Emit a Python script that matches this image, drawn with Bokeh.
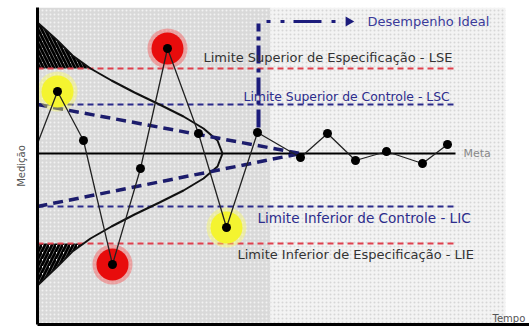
import math
from bokeh.plotting import figure
from bokeh.core.properties import value
from bokeh.embed import file_html
from bokeh.resources import INLINE

# ---- data (tempo / medição units; Meta = 0) ----
tempo = [0.0, 2.0, 4.6, 7.5, 10.3, 13.0, 16.1, 18.9, 22.0, 26.3, 29.0, 31.8, 34.9, 38.5, 41.0]
medicao = [1.0, 6.2, 1.3, -11.1, -1.5, 10.5, 2.0, -7.4, 2.1, -0.4, 2.0, -0.7, 0.2, -1.0, 0.9]
red_idx = [3, 5]
yellow_idx = [1, 7]

meta = 0.0
lse, lsc, lic, lie = 8.5, 4.9, -5.3, -9.0
limit_end = 41.8

# sideways distribution curve
curve_x = [0.0, 2.0, 3.5, 5.3, 7.4, 9.7, 12.2, 14.6, 16.6, 18.0, 18.5,
           18.0, 16.6, 14.6, 12.2, 9.7, 7.4, 5.3, 3.5, 2.0, 0.0]
curve_y = [13.1, 11.3, 9.8, 8.5, 7.3, 6.1, 4.9, 3.7, 2.5, 1.3, 0.0,
           -1.3, -2.5, -3.7, -4.9, -6.1, -7.3, -8.5, -9.8, -11.3, -13.2]
tail_top_x = [0.0, 2.0, 3.5, 5.3, 0.0]
tail_top_y = [13.1, 11.3, 9.8, 8.5, 8.5]
tail_bot_x = [0.0, 4.6, 3.5, 2.0, 0.0]
tail_bot_y = [-9.0, -9.0, -9.8, -11.3, -13.2]

converge_end = 26.3
ideal_x = 22.1
ideal_y = [2.6, 13.0]
legend_x = [22.9, 30.4]
legend_arrow_x = 31.1
legend_y = 13.2

zone_left = [0.0, 23.3]
zone_right = [23.3, 46.8]
zone_fill = ["#d9d9d9", "#f3f3f3"]
zone_dot = ["#f2f2f2", "#d6d6d6"]

x_lo, x_hi = 0.0, 49.2
y_lo, y_hi = -17.1, 14.6

FONT = value("DejaVu Sans")

p = figure(width=529, height=329, x_range=(x_lo, x_hi), y_range=(y_lo, y_hi),
           output_backend="svg", toolbar_location=None,
           min_border_left=37, min_border_right=0, min_border_top=7, min_border_bottom=5)
p.grid.visible = False
p.outline_line_color = None
p.background_fill_color = "white"
for ax in (p.xaxis, p.yaxis):
    ax.ticker = []
    ax.major_tick_out = 0
    ax.major_tick_in = 0
    ax.minor_tick_out = 0
    ax.minor_tick_in = 0
    ax.major_label_standoff = 0
    ax.axis_line_width = 3
    ax.axis_line_color = "black"
p.yaxis.axis_label = "Medição"
p.yaxis.axis_label_text_font = "DejaVu Sans"
p.yaxis.axis_label_text_font_size = "10px"
p.yaxis.axis_label_text_font_style = "normal"
p.yaxis.axis_label_text_color = "#555555"
p.yaxis.axis_label_standoff = 11

# background zones
p.quad(left=zone_left, right=zone_right, top=[y_hi, y_hi], bottom=[y_lo, y_lo],
       fill_color=zone_fill, line_color=None, hatch_pattern="dot",
       hatch_color=zone_dot, hatch_scale=4, hatch_weight=1)

# hatched tails
p.patch(tail_top_x, tail_top_y, fill_color="white", line_color=None,
        hatch_pattern="left_diagonal_line", hatch_color="black", hatch_weight=2.8, hatch_scale=7)
p.patch(tail_bot_x, tail_bot_y, fill_color="white", line_color=None,
        hatch_pattern="right_diagonal_line", hatch_color="black", hatch_weight=2.8, hatch_scale=7)

# meta line
p.line([0, limit_end], [meta, meta], line_color="black", line_width=2)
# spec limits (red) and control limits (blue)
p.segment(x0=[0, 0], y0=[lse, lie], x1=[limit_end, limit_end], y1=[lse, lie],
          line_color="#e0404e", line_width=2, line_dash="6 4")
p.segment(x0=[0, 0], y0=[lsc, lic], x1=[limit_end, limit_end], y1=[lsc, lic],
          line_color="#2c2c8c", line_width=2, line_dash="6 4")

# distribution curve
p.line(curve_x, curve_y, line_color="#111111", line_width=2)

# converging dashed lines
p.segment(x0=[0, 0], y0=[lsc, lic], x1=[converge_end, converge_end], y1=[meta, meta],
          line_color="#1c1c6c", line_width=3.5, line_dash="10 6")

# highlight halos
rx = [tempo[i] for i in red_idx]
ry = [medicao[i] for i in red_idx]
yx = [tempo[i] for i in yellow_idx]
yy = [medicao[i] for i in yellow_idx]
p.scatter(rx, ry, size=40, fill_color="#ff3030", fill_alpha=0.35, line_color=None)
p.scatter(rx, ry, size=32, fill_color="#e80c0c", line_color=None)
p.scatter(yx, yy, size=40, fill_color="#ffff60", fill_alpha=0.4, line_color=None)
p.scatter(yx, yy, size=32, fill_color="#f4f430", line_color=None)

# process line
p.line(tempo, medicao, line_color="#222222", line_width=1.3)
p.scatter(tempo[1:], medicao[1:], size=9, fill_color="black", line_color=None)

# ideal performance vertical line + legend
p.line([ideal_x, ideal_x], ideal_y, line_color="#1c1c7c", line_width=4, line_dash="18 5 4 5")
p.line(legend_x, [legend_y, legend_y], line_color="#1c1c7c", line_width=3,
       line_dash="4 10 4 9 28 10 4 100")
p.scatter([legend_arrow_x], [legend_y], marker="triangle", angle=-math.pi / 2,
          size=10, fill_color="#1c1c7c", line_color=None)

# texts
p.text(x=[33.0], y=[legend_y], text=["Desempenho Ideal"], text_font=FONT,
       text_font_size=value("13px"), text_color="#3a3a9a", text_baseline="middle")
p.text(x=[16.6, 20.0], y=[9.6, -10.1],
       text=["Limite Superior de Especificação - LSE", "Limite Inferior de Especificação - LIE"],
       text_font=FONT, text_font_size=value("13px"), text_color="#333333",
       text_baseline="middle")
p.text(x=[20.6], y=[5.7], text=["Limite Superior de Controle - LSC"],
       text_font=FONT, text_font_size=value("12.4px"), text_color="#2c2c8c",
       text_baseline="middle")
p.text(x=[22.0], y=[-6.4], text=["Limite Inferior de Controle - LIC"],
       text_font=FONT, text_font_size=value("13.6px"), text_color="#2c2c8c",
       text_baseline="middle")
p.text(x=[42.6], y=[meta], text=["Meta"], text_font=FONT, text_font_size=value("11px"),
       text_color="#888888", text_baseline="middle")
p.text(x=[45.5], y=[-16.5], text=["Tempo"], text_font=FONT, text_font_size=value("10px"),
       text_color="#555555", text_baseline="middle")

open("out.html", "w").write(file_html(p, INLINE))
